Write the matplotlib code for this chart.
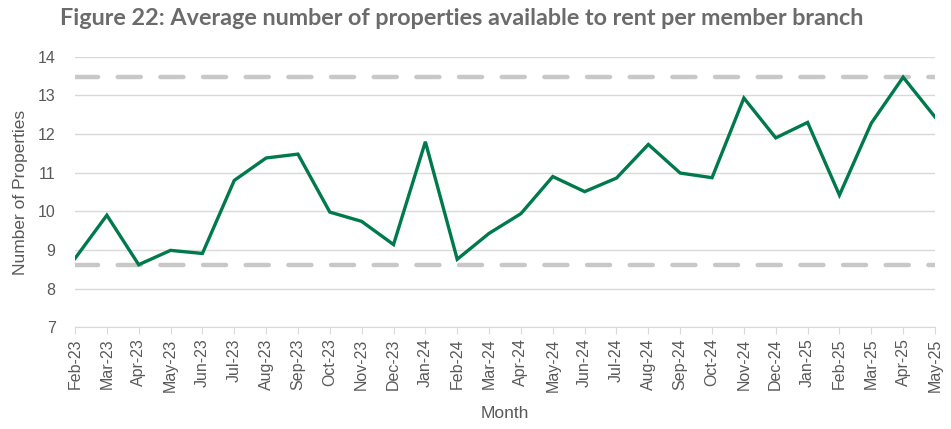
import matplotlib
matplotlib.use("Agg")
import matplotlib.pyplot as plt

plt.rcParams["font.family"] = ["Liberation Sans", "DejaVu Sans"]

months = ["Feb-23", "Mar-23", "Apr-23", "May-23", "Jun-23", "Jul-23", "Aug-23", "Sep-23",
          "Oct-23", "Nov-23", "Dec-23", "Jan-24", "Feb-24", "Mar-24", "Apr-24", "May-24",
          "Jun-24", "Jul-24", "Aug-24", "Sep-24", "Oct-24", "Nov-24", "Dec-24", "Jan-25",
          "Feb-25", "Mar-25", "Apr-25", "May-25"]
properties = [8.78, 9.90, 8.62, 8.99, 8.91, 10.80, 11.38, 11.48,
              9.98, 9.74, 9.14, 11.80, 8.76, 9.43, 9.94, 10.90,
              10.51, 10.86, 11.73, 10.99, 10.87, 12.93, 11.90, 12.30,
              10.42, 12.28, 13.47, 12.44]
max_line = 13.47
min_line = 8.60
yticks = [7, 8, 9, 10, 11, 12, 13, 14]

fig = plt.figure(figsize=(9.51, 4.29), dpi=100)
ax = fig.add_axes([75/951, 1-327.3/429, (935-75)/951, (327.3-56.7)/429])

x = list(range(len(months)))
for yv in yticks:
    ax.axhline(yv, color="#d9d9d9", lw=1.0, zorder=1)
ax.axhline(max_line, color="#c8c8c8", lw=3.2, dashes=(5.2, 4.4), zorder=2, dash_capstyle="round")
ax.axhline(min_line, color="#c8c8c8", lw=3.2, dashes=(5.2, 4.4), zorder=2, dash_capstyle="round")
ax.plot(x, properties, color="#00794c", lw=2.4, zorder=3, solid_joinstyle="miter")

ax.set_xlim(0, len(months)-1)
ax.set_ylim(7, 14)
ax.set_yticks(yticks)
ax.set_xticks(x)
ax.set_xticklabels(months, rotation=90)
for s in ["top", "right", "left"]:
    ax.spines[s].set_visible(False)
ax.spines["bottom"].set_color("#d9d9d9")
ax.tick_params(axis="y", length=0, labelsize=11.5, labelcolor="#595959", pad=14)
ax.tick_params(axis="x", length=5, color="#d9d9d9", labelsize=11.5, labelcolor="#595959", pad=3)
ax.set_ylabel("Number of Properties", fontsize=12.5, color="#595959", labelpad=7)
ax.set_xlabel("Month", fontsize=12.5, color="#595959", labelpad=10)

fig.text(0.063, 0.958, "Figure 22: Average number of properties available to rent per member branch",
         fontsize=16.8, fontweight="bold", color="#6b6b6b", ha="left", va="center", family="Lato")

fig.savefig("out.png", dpi=100)
